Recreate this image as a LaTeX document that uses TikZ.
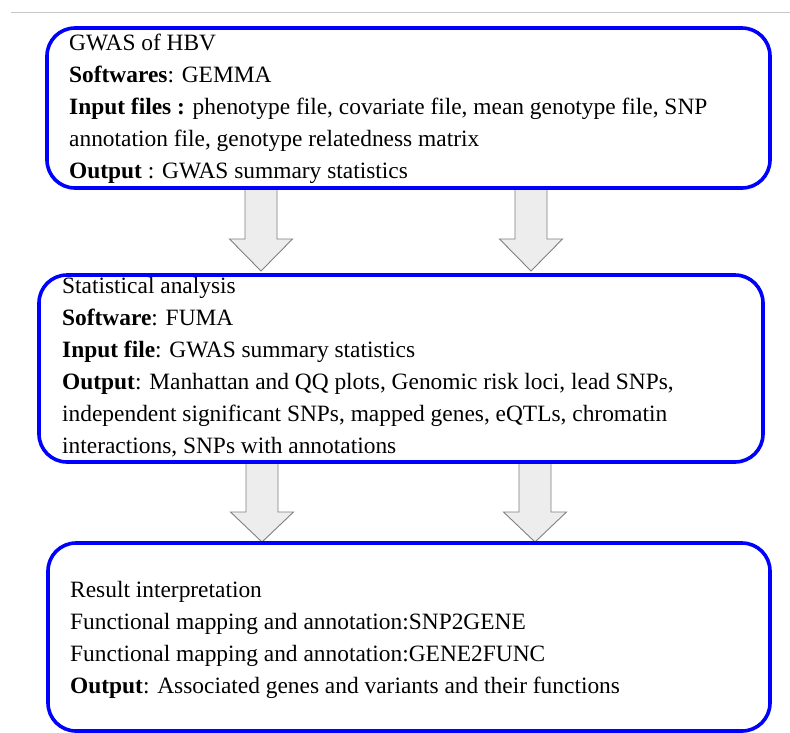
\documentclass[tikz,border=0pt]{standalone}
\usepackage{fontspec}
\setmainfont{Liberation Serif}
\begin{document}
\begin{tikzpicture}[x=1pt,y=-1pt,
  box/.style={draw=blue, line width=3.6pt, rounded corners=28pt},
  txt/.style={anchor=base west, inner sep=0pt, font=\fontsize{23.4}{27}\selectfont},
  bigarrow/.style={draw=black!50, fill=black!7, line width=0.9pt, line join=miter},
  rule/.style={draw=black!22, line width=1pt}]
\useasboundingbox (0,0) rectangle (790,732);
\coordinate (r1) at (11,12);
\coordinate (r2) at (790,12);
\draw[rule] (r1) -- (r2);
% boxes
\coordinate (b1nw) at (47,28); \coordinate (b1se) at (770,188);
\coordinate (b2nw) at (39,275); \coordinate (b2se) at (763,462);
\coordinate (b3nw) at (48,543); \coordinate (b3se) at (770,731);
% arrows (drawn first so boxes overlap their ends)
\newcommand{\dnarrow}[4]{% center x, top y, head top y, tip y
  \draw[bigarrow] (#1-16,#2) -- (#1+16,#2) -- (#1+16,#3) -- (#1+31.5,#3)
    -- (#1,#4) -- (#1-31.5,#3) -- (#1-16,#3) -- cycle;}
\dnarrow{261}{189}{239}{271}
\dnarrow{531}{189}{239}{271}
\dnarrow{262}{463}{512}{542}
\dnarrow{535}{463}{512}{542}
\draw[box] (b1nw) rectangle (b1se);
\draw[box] (b2nw) rectangle (b2se);
\draw[box] (b3nw) rectangle (b3se);
% box 1 text
\node[txt] (t11) at (69,50) {GWAS of HBV};
\node[txt] (t12) at (69,82) {\textbf{Softwares}: GEMMA};
\node[txt] (t13) at (69,114) {\textbf{Input files :} phenotype file, covariate file, mean genotype file, SNP};
\node[txt] (t14) at (69,146) {annotation file, genotype relatedness matrix};
\node[txt] (t15) at (69,178) {\textbf{Output} : GWAS summary statistics};
% box 2 text
\node[txt] (t21) at (62,293) {Statistical analysis};
\node[txt] (t22) at (62,325) {\textbf{Software}: FUMA};
\node[txt] (t23) at (62,357) {\textbf{Input file}: GWAS summary statistics};
\node[txt] (t24) at (62,389) {\textbf{Output}: Manhattan and QQ plots, Genomic risk loci, lead SNPs,};
\node[txt] (t25) at (62,421) {independent significant SNPs, mapped genes, eQTLs, chromatin};
\node[txt] (t26) at (62,453) {interactions, SNPs with annotations};
% box 3 text
\node[txt] (t31) at (70,597) {Result interpretation};
\node[txt] (t32) at (70,629) {Functional mapping and annotation:SNP2GENE};
\node[txt] (t33) at (70,661) {Functional mapping and annotation:GENE2FUNC};
\node[txt] (t34) at (70,693) {\textbf{Output}: Associated genes and variants and their functions};
\end{tikzpicture}
\end{document}
